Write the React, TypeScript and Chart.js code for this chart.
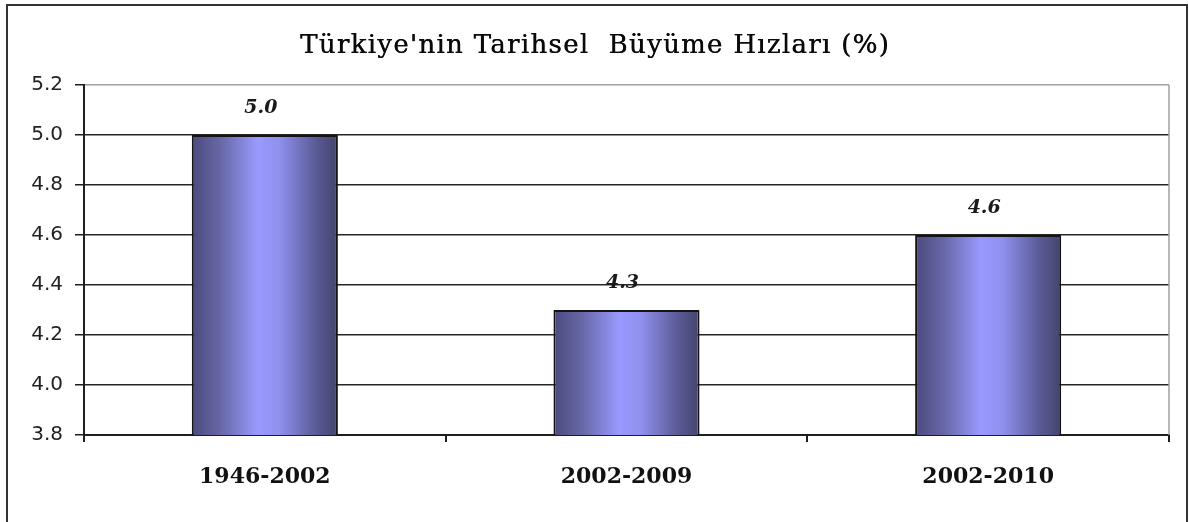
import React, { useEffect, useRef } from "react";
import { Chart, registerables } from "chart.js";

Chart.register(...registerables);

const titleText = "Türkiye'nin Tarihsel  Büyüme Hızları (%)";
const categories = ["1946-2002", "2002-2009", "2002-2010"];
const growthRates = [5.0, 4.3, 4.6];
const yMin = 3.8;
const yMax = 5.2;
const yStep = 0.2;

const W = 1189;
const H = 522;

export default function App() {
  const ref = useRef<HTMLCanvasElement | null>(null);

  useEffect(() => {
    if (!ref.current) return;
    const barPct = 0.404;

    const framePlugin = {
      id: "frame",
      beforeDraw(chart: any) {
        const ctx = chart.ctx;
        ctx.save();
        ctx.fillStyle = "#ffffff";
        ctx.fillRect(0, 0, W, H);
        ctx.strokeStyle = "#333333";
        ctx.lineWidth = 2;
        ctx.strokeRect(7, 5, 1180, 540);
        ctx.fillStyle = "#0a0a0a";
        ctx.font = '26px "DejaVu Serif"';
        try {
          (ctx as any).letterSpacing = "1.3px";
        } catch (e) {}
        ctx.textAlign = "center";
        ctx.textBaseline = "middle";
        ctx.fillText(titleText, 595, 46);
        ctx.fillText(titleText, 595.4, 46);
        ctx.restore();
      },
      beforeDatasetsDraw(chart: any) {
        const { ctx, chartArea } = chart;
        ctx.save();
        ctx.strokeStyle = "#a0a0a0";
        ctx.lineWidth = 1.5;
        ctx.beginPath();
        ctx.moveTo(chartArea.right, chartArea.top);
        ctx.lineTo(chartArea.right, chartArea.bottom);
        ctx.stroke();
        ctx.restore();
      },
      afterDatasetsDraw(chart: any) {
        const ctx = chart.ctx;
        const meta = chart.getDatasetMeta(0);
        ctx.save();
        ctx.fillStyle = "#1a1a1a";
        ctx.font = 'italic bold 19px "DejaVu Serif"';
        ctx.textAlign = "center";
        ctx.textBaseline = "middle";
        meta.data.forEach((el: any, i: number) => {
          ctx.fillText(growthRates[i].toFixed(1), el.x - 4, el.y - 27);
        });
        ctx.restore();
      },
    };

    const chart = new Chart(ref.current, {
      type: "bar",
      data: {
        labels: categories,
        datasets: [
          {
            data: growthRates,
            backgroundColor: (c: any) => {
              const chart = c.chart;
              const xs = chart.scales && chart.scales.x;
              if (!xs || c.dataIndex === undefined) return "#9999ff";
              const cx = xs.getPixelForValue(c.dataIndex);
              const bw = (xs.width / categories.length) * barPct;
              if (!isFinite(cx) || !isFinite(bw) || bw <= 0) return "#9999ff";
              const g = chart.ctx.createLinearGradient(cx - bw / 2, 0, cx + bw / 2, 0);
              g.addColorStop(0, "#4a4a7e");
              g.addColorStop(0.2, "#6868a8");
              g.addColorStop(0.45, "#9999ff");
              g.addColorStop(0.6, "#9090ee");
              g.addColorStop(0.85, "#5a5a96");
              g.addColorStop(1, "#44446c");
              return g;
            },
            borderColor: "#141414",
            borderWidth: 2,
            borderSkipped: false,
            barPercentage: barPct,
            categoryPercentage: 1,
          },
        ],
      },
      options: {
        responsive: false,
        animation: false,
        devicePixelRatio: 1,
        layout: { padding: { left: 0, right: 20, top: 85, bottom: 0 } },
        plugins: {
          legend: { display: false },
          title: { display: false },
          tooltip: { enabled: false },
        },
        scales: {
          x: {
            offset: true,
            afterFit: (s: any) => {
              s.height = 87;
            },
            grid: {
              offset: true,
              drawOnChartArea: false,
              drawTicks: true,
              tickLength: 7,
              color: "#1e1e1e",
              lineWidth: 2,
            },
            border: { color: "#1e1e1e", width: 2 },
            ticks: {
              color: "#111111",
              padding: 22,
              font: { family: '"DejaVu Serif"', size: 22, weight: "bold" },
            },
          },
          y: {
            min: yMin,
            max: yMax,
            afterFit: (s: any) => {
              s.width = 84;
            },
            grid: {
              drawTicks: true,
              tickLength: 9,
              tickColor: "#1e1e1e",
              color: (c: any) =>
                c.tick && Math.abs(c.tick.value - yMax) < 1e-6 ? "#a0a0a0" : "#262626",
              lineWidth: 1.5,
            },
            border: { color: "#1e1e1e", width: 2 },
            ticks: {
              stepSize: yStep,
              color: "#222222",
              padding: 12,
              font: { family: '"DejaVu Sans"', size: 20 },
              callback: (v: any) => Number(v).toFixed(1),
            },
          },
        },
      },
      plugins: [framePlugin],
    });
    return () => chart.destroy();
  }, []);

  return (
    <div style={{ position: "fixed", left: 0, top: 0, width: W, height: H, background: "#fff" }}>
      <canvas ref={ref} width={W} height={H} style={{ display: "block" }} />
    </div>
  );
}
